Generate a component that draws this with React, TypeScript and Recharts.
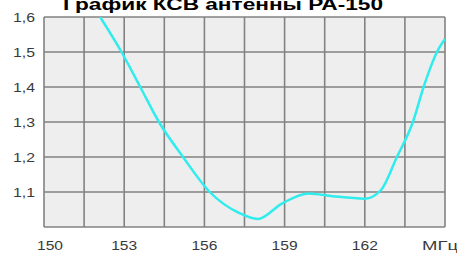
import { LineChart, Line, XAxis, YAxis, CartesianGrid } from 'recharts';

// frequency, MHz
const freqs = [152.1, 152.9, 153.6, 154.3, 155.2, 156.2, 157.3, 158.0, 158.9, 159.9, 160.8, 162.0, 162.6, 163.2, 163.8, 164.2, 164.7, 165.0];
// VSWR
const vswr = [1.6, 1.5, 1.4, 1.3, 1.2, 1.1, 1.04, 1.023, 1.067, 1.096, 1.088, 1.081, 1.105, 1.2, 1.3, 1.4, 1.5, 1.537];

const freqTicks = [150, 151.5, 153, 154.5, 156, 157.5, 159, 160.5, 162, 163.5, 165];
const freqLabels = ['150', '', '153', '', '156', '', '159', '', '162', '', 'МГц'];
const vswrTicks = [1.0, 1.1, 1.2, 1.3, 1.4, 1.5, 1.6];

const title = 'График КСВ антенны РА-150';

const data = freqs.map((f, i) => ({ f, v: vswr[i] }));

const FONT = 'Liberation Sans, Arial, sans-serif';

// the source picture is stretched sideways, so text gets a fixed length
const FreqTick = (props: any) => {
    const { x, payload } = props;
    const i = freqTicks.indexOf(payload.value);
    const label = freqLabels[i] ?? '';
    if (!label) return <g />;
    let cx = x;
    if (i === 0) cx = x + 6;
    const len = i === freqTicks.length - 1 ? 36 : 26;
    const left = i === freqTicks.length - 1 ? 422 : cx - len / 2;
    return (
        <text x={left} y={250} textLength={len} lengthAdjust="spacingAndGlyphs" fill="#3a3a3a" fontSize={12.5} fontFamily={FONT}>
            {label}
        </text>
    );
};

const VswrTick = (props: any) => {
    const { y, payload } = props;
    if (payload.value === 1) return <g />;
    const label = payload.value.toFixed(1).replace('.', ',');
    return (
        <text x={13} y={y + 4.5} textLength={22} lengthAdjust="spacingAndGlyphs" fill="#3a3a3a" fontSize={12.5} fontFamily={FONT}>
            {label}
        </text>
    );
};

export default function App() {
    return (
        <div style={{ position: 'absolute', left: 0, top: 0, width: 457, height: 255, background: '#fff', overflow: 'hidden' }}>
            <svg width={457} height={20} style={{ position: 'absolute', left: 0, top: 0, zIndex: 2 }}>
                <text x={63} y={10} textLength={320} lengthAdjust="spacingAndGlyphs" fontSize={16.5} fontWeight="bold" fontFamily={FONT} fill="#000">
                    {title}
                </text>
            </svg>
            <LineChart
                width={457}
                height={255}
                data={data}
                margin={{ top: 17, right: 12, left: 0, bottom: 0 }}
            >
                <CartesianGrid stroke="#828282" strokeWidth={1.6} fill="#eeeeee" />
                <XAxis
                    dataKey="f"
                    type="number"
                    domain={[150, 165]}
                    ticks={freqTicks}
                    interval={0}
                    axisLine={false}
                    tickLine={false}
                    height={28}
                    tick={<FreqTick />}
                />
                <YAxis
                    type="number"
                    domain={[1, 1.6]}
                    ticks={vswrTicks}
                    allowDataOverflow
                    interval={0}
                    axisLine={false}
                    tickLine={false}
                    width={44}
                    tick={<VswrTick />}
                />
                <Line
                    dataKey="v"
                    type="monotone"
                    stroke="#30ecec"
                    strokeWidth={2.5}
                    dot={false}
                    isAnimationActive={false}
                />
            </LineChart>
        </div>
    );
}
